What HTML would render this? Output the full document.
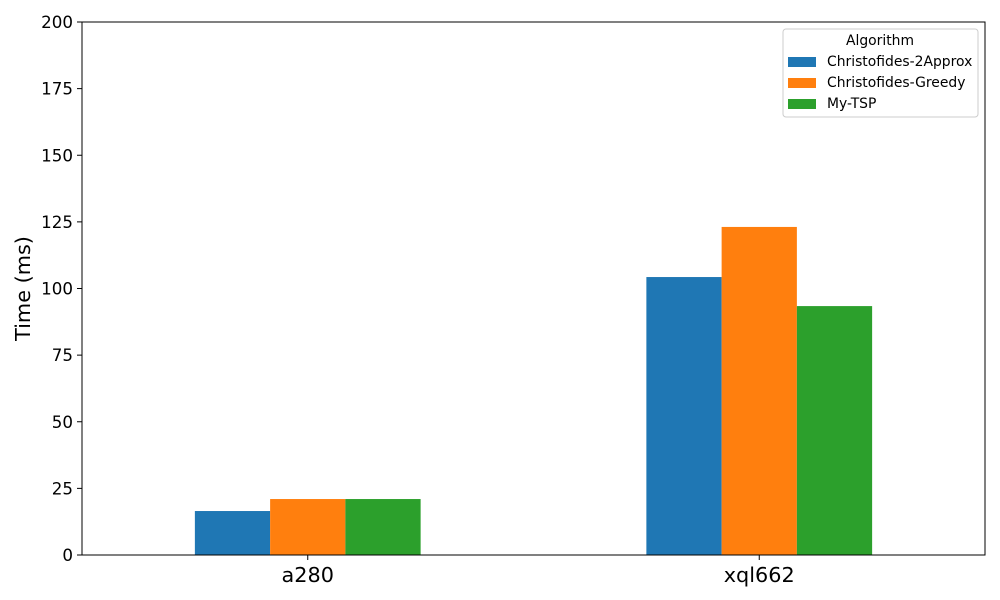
<!DOCTYPE html>
<html><head><meta charset="utf-8"><style>
body{margin:0;background:#fff;}
svg{display:block;font-family:"DejaVu Sans","Liberation Sans",sans-serif;}
</style></head><body>
<svg id="chart" width="1000" height="600"></svg>
<script>
const categories = ["a280", "xql662"];
const seriesNames = ["Christofides-2Approx", "Christofides-Greedy", "My-TSP"];
const seriesColors = ["#1f77b4", "#ff7f0e", "#2ca02c"];
const approxValues = [16.5, 104.3];
const greedyValues = [21.0, 123.1];
const myTspValues = [21.0, 93.4];
const yTicks = [0, 25, 50, 75, 100, 125, 150, 175, 200];

const series = [approxValues, greedyValues, myTspValues];
const NS = "http://www.w3.org/2000/svg";
const svg = document.getElementById("chart");
const L = 82, R = 985, T = 22, B = 555;
const yMax = 200;
function y(v){ return B - v / yMax * (B - T); }
function x(v){ return L + (v + 0.5) / 2 * (R - L); }
function mk(tag, attrs, parent){ const e = document.createElementNS(NS, tag); for (const k in attrs) e.setAttribute(k, attrs[k]); (parent||svg).appendChild(e); return e; }

const barW = 0.5 / 3;
series.forEach((vals, s) => {
  vals.forEach((v, i) => {
    const x0 = x(i - 0.25 + s * barW);
    const r = mk("rect", {x: x0, y: y(v), width: x(i - 0.25 + (s+1)*barW) - x0, height: B - y(v), fill: seriesColors[s]});
    
    
  });
});

mk("rect", {x: L, y: T, width: R - L, height: B - T, fill: "none", stroke: "#000", "stroke-width": 1});

yTicks.forEach(t => {
  mk("line", {x1: L - 5, x2: L, y1: y(t), y2: y(t), stroke: "#000"});
  const tx = mk("text", {x: L - 9, y: y(t) + 6, "text-anchor": "end", "font-size": 16.7});
  tx.textContent = t;
  
  
});
categories.forEach((c, i) => {
  mk("line", {x1: x(i), x2: x(i), y1: B, y2: B + 5, stroke: "#000"});
  const tx = mk("text", {x: x(i), y: B + 27, "text-anchor": "middle", "font-size": 20.8});
  tx.textContent = c;
  
  
});
const yl = mk("text", {x: 30, y: (T + B) / 2, "text-anchor": "middle", "font-size": 20.8, transform: "rotate(-90 30 " + (T + B) / 2 + ")"});
yl.textContent = "Time (ms)";



const lg = mk("g", {});


mk("rect", {x: 783, y: 29, width: 195, height: 88, rx: 3, fill: "#fff", stroke: "#ccc"}, lg);
const lt = mk("text", {x: 880, y: 45, "text-anchor": "middle", "font-size": 13.9}, lg);
lt.textContent = "Algorithm";
seriesNames.forEach((n, s) => {
  const g = mk("g", {}, lg);
  
  
  mk("rect", {x: 788, y: 57 + s * 21, width: 28, height: 10, fill: seriesColors[s]}, g);
  const t = mk("text", {x: 827, y: 66 + s * 21, "font-size": 13.9}, g);
  t.textContent = n;
});
</script>
</body></html>
